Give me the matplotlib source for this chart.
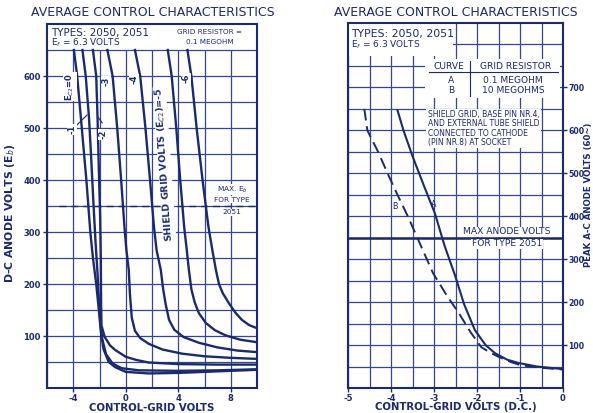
"""Average control characteristics, types 2050 / 2051 (two-panel datasheet chart)."""

import matplotlib
matplotlib.use("Agg")
import matplotlib.pyplot as plt
import numpy as np

INK = "#1b2a6e"
GRID = "#34468c"

# ---- left panel: critical grid volts vs d-c anode volts, one curve per shield-grid voltage
ec2_0_grid = [-3.95, -3.7, -3.35, -3.0, -2.7, -2.5, -2.25, -2.05, -1.9, -1.7, -1.3, -0.8, 0.0, 1.75, 4.0, 7.0, 10.0]
ec2_0_anode = [650, 600, 500, 400, 300, 250, 200, 150, 110, 75, 50, 40, 31, 28, 29, 32, 35]

ec2_1_grid = [-3.3, -3.05, -2.8, -2.65, -2.45, -2.3, -2.15, -2.05, -1.95, -1.8, -1.5, -1.0, -0.3, 1.0, 4.0, 7.0, 10.0]
ec2_1_anode = [650, 600, 520, 450, 350, 280, 220, 170, 130, 95, 65, 47, 38, 34, 33, 34, 36]

ec2_2_grid = [-2.5, -2.25, -2.15, -2.05, -1.95, -1.9, -1.88, -1.85, -1.6, -1.2, -0.8, 0.0, 0.8, 1.75, 4.0, 7.0, 10.0]
ec2_2_anode = [650, 600, 520, 420, 330, 250, 170, 120, 98, 82, 73, 60, 54, 49, 46, 45, 45]

ec2_3_grid = [-1.4, -1.0, -0.65, -0.35, -0.1, 0.05, 0.23, 0.32, 0.46, 0.7, 1.1, 1.75, 2.8, 4.3, 6.0, 8.0, 10.0]
ec2_3_anode = [650, 600, 500, 400, 310, 265, 227, 180, 135, 110, 96, 85, 74, 66, 61, 58, 56]

ec2_4_grid = [0.7, 1.1, 1.5, 1.85, 2.15, 2.35, 2.67, 2.85, 3.05, 3.3, 3.7, 4.4, 5.57, 7.0, 8.5, 10.0]
ec2_4_anode = [650, 600, 500, 400, 310, 265, 227, 190, 160, 131, 112, 98, 87, 78, 72, 69]

ec2_5_grid = [3.2, 3.5, 3.85, 4.15, 4.45, 4.65, 4.81, 5.0, 5.25, 5.57, 6.1, 6.8, 7.63, 8.7, 10.0]
ec2_5_anode = [650, 600, 500, 400, 310, 265, 227, 190, 165, 144, 125, 111, 101, 93, 88]

ec2_6_grid = [4.7, 5.0, 5.4, 5.85, 6.3, 6.6, 6.87, 7.1, 7.4, 7.86, 8.35, 8.85, 9.4, 10.0]
ec2_6_anode = [650, 600, 500, 400, 310, 265, 227, 200, 182, 163, 145, 131, 121, 115]

left_xticks = [-4, 0, 4, 8]
left_yticks = [100, 200, 300, 400, 500, 600]
max_eb_2051 = 350

# ---- right panel: peak a-c anode volts vs d-c grid volts
curve_a_grid = [-3.85, -3.71, -3.5, -3.25, -2.98, -2.75, -2.51, -2.3, -2.05, -1.8, -1.58, -1.3, -1.02, -0.6, 0.0]
curve_a_anode = [647, 600, 540, 475, 407, 330, 262, 195, 135, 100, 81, 66, 58, 50, 44]

curve_b_grid = [-4.62, -4.55, -4.3, -4.08, -3.85, -3.6, -3.3, -3.02, -2.7, -2.42, -2.15, -1.9, -1.65, -1.44, -1.2, -0.98, -0.5, 0.0]
curve_b_anode = [650, 600, 550, 500, 450, 398, 330, 267, 215, 174, 130, 95, 80, 70, 60, 53, 47, 43]

right_xticks = [-5, -4, -3, -2, -1, 0]
right_yticks = [100, 200, 300, 400, 500, 600, 700]
max_anode_2051 = 350

plt.rcParams["font.family"] = "DejaVu Sans"

fig = plt.figure(figsize=(5.93, 4.13), dpi=100)
fig.patch.set_facecolor("white")

W, H = 593, 413
ax1 = fig.add_axes([47 / W, 25 / H, 210 / W, 364 / H])
ax2 = fig.add_axes([348 / W, 25 / H, 215 / W, 365 / H])

for ax in (ax1, ax2):
    for s in ax.spines.values():
        s.set_color(INK)
        s.set_linewidth(1.5)
    ax.tick_params(colors=INK, labelcolor=INK, length=3, width=1.0, labelsize=6.0, pad=1.5)

# ---------------- left panel ----------------
ax1.set_xlim(-6, 10)
ax1.set_ylim(0, 700)
ax1.vlines(np.arange(-6, 10.1, 2), 0, 650, color=GRID, lw=0.9, zorder=1)
ax1.hlines(np.arange(50, 651, 50), -6, 10, color=GRID, lw=0.9, zorder=1)

left_curves = [
    (ec2_0_grid, ec2_0_anode), (ec2_1_grid, ec2_1_anode), (ec2_2_grid, ec2_2_anode),
    (ec2_3_grid, ec2_3_anode), (ec2_4_grid, ec2_4_anode), (ec2_5_grid, ec2_5_anode),
    (ec2_6_grid, ec2_6_anode),
]
for gx, ea in left_curves:
    ax1.plot(gx, ea, color=INK, lw=1.7, zorder=3, solid_joinstyle="round")

ax1.plot([-5.1, 10], [max_eb_2051, max_eb_2051], color=INK, lw=1.0, ls=(0, (5, 3.5)), zorder=2)

ax1.set_xticks(left_xticks)
ax1.set_yticks(left_yticks)
ax1.set_xticklabels([str(v) for v in left_xticks], fontweight="bold")
ax1.set_yticklabels([str(v) for v in left_yticks], fontweight="bold")
ax1.set_xlabel("CONTROL-GRID VOLTS", color=INK, fontsize=7.3, fontweight="bold")
ax1.xaxis.set_label_coords(0.5, -0.042)
ax1.set_ylabel("D-C ANODE VOLTS (E$_b$)", color=INK, fontsize=7.8, fontweight="bold")
ax1.yaxis.set_label_coords(-0.145, 0.48)

ax1.text(-5.7, 683, "TYPES: 2050, 2051", color=INK, fontsize=7.5, va="center", ha="left")
ax1.text(-5.7, 664, "E$_f$ = 6.3 VOLTS", color=INK, fontsize=6.5, va="center", ha="left")
ax1.text(6.4, 684, "GRID RESISTOR =", color=INK, fontsize=5.2, va="center", ha="center")
ax1.text(6.4, 666, "0.1 MEGOHM", color=INK, fontsize=5.2, va="center", ha="center")

lab_kw = dict(color=INK, fontsize=6.0, fontweight="bold", rotation=90, ha="center", va="center",
              zorder=5, bbox=dict(facecolor="white", edgecolor="none", pad=0.4))
ax1.text(-4.25, 580, "E$_{C2}$=0", **lab_kw)
ax1.text(-4.1, 497, "-1", **lab_kw)
ax1.plot([-3.75, -2.95], [505, 525], color=INK, lw=0.8, zorder=4)
ax1.text(-1.7, 488, "-2", **lab_kw)
ax1.plot([-1.8, -2.12], [510, 521], color=INK, lw=0.8, zorder=4)
ax1.text(-1.5, 590, "-3", **lab_kw)
ax1.text(0.6, 593, "-4", **lab_kw)
ax1.text(4.6, 596, "-6", **lab_kw)
ax1.text(2.95, 430, "SHIELD GRID VOLTS (E$_{C2}$)=-5", color=INK, fontsize=6.8, fontweight="bold",
         rotation=94, ha="center", va="center", zorder=5,
         bbox=dict(facecolor="white", edgecolor="none", pad=0.3))

max_kw = dict(color=INK, fontsize=5.3, ha="center", va="center", zorder=5,
              bbox=dict(facecolor="white", edgecolor="none", pad=0.3))
ax1.text(8.1, 381, "MAX. E$_b$", **max_kw)
ax1.text(8.1, 362, "FOR TYPE", **max_kw)
ax1.text(8.1, 338, "2051", **max_kw)

# ---------------- right panel ----------------
ax2.set_xlim(-5, 0)
ax2.set_ylim(0, 850)
ax2.vlines(np.arange(-5, 0.01, 0.5), 0, 850, color=GRID, lw=0.9, zorder=1)
ax2.hlines(np.arange(50, 801, 50), -5, 0, color=GRID, lw=0.9, zorder=1)
ax2.plot([-5, 0], [max_anode_2051, max_anode_2051], color=INK, lw=1.8, zorder=2)

ax2.plot(curve_a_grid, curve_a_anode, color=INK, lw=1.5, zorder=3)
ax2.plot(curve_b_grid, curve_b_anode, color=INK, lw=1.4, ls=(0, (6, 3)), zorder=3)

ax2.yaxis.tick_right()
ax2.tick_params(axis="y", labelsize=5.6, pad=0.8)
ax2.set_xticks(right_xticks)
ax2.set_yticks(right_yticks)
ax2.set_xticklabels([str(v) for v in right_xticks], fontweight="bold")
ax2.set_yticklabels([str(v) for v in right_yticks], fontweight="bold")
ax2.set_xlabel("CONTROL-GRID VOLTS (D.C.)", color=INK, fontsize=7.3, fontweight="bold")
ax2.xaxis.set_label_coords(0.5, -0.038)

# clear band behind the type text, top left
ax2.add_patch(plt.Rectangle((-5, 772), 2.45, 78, facecolor="white", edgecolor="none", zorder=2))
ax2.text(-4.92, 825, "TYPES: 2050, 2051", color=INK, fontsize=7.8, va="center", ha="left", zorder=5)
ax2.text(-4.92, 800, "E$_f$ = 6.3 VOLTS", color=INK, fontsize=6.5, va="center", ha="left", zorder=5)

# legend table for curves A / B
ax2.add_patch(plt.Rectangle((-3.2, 675), 3.12, 92, facecolor="white", edgecolor="none", zorder=4))
tkw = dict(color=INK, fontsize=6.6, va="center", zorder=5)
ax2.text(-2.65, 748, "CURVE", ha="center", **tkw)
ax2.text(-1.1, 748, "GRID RESISTOR", ha="center", **tkw)
ax2.plot([-3.12, -0.12], [735, 735], color=INK, lw=0.8, zorder=5)
ax2.plot([-2.16, -2.16], [680, 762], color=INK, lw=0.8, zorder=5)
ax2.text(-2.6, 716, "A", ha="center", **tkw)
ax2.text(-1.16, 716, "0.1 MEGOHM", ha="center", **tkw)
ax2.text(-2.6, 693, "B", ha="center", **tkw)
ax2.text(-1.16, 693, "10 MEGOHMS", ha="center", **tkw)

note = ("SHIELD GRID, BASE PIN NR.4,\nAND EXTERNAL TUBE SHIELD\n"
        "CONNECTED TO CATHODE\n(PIN NR.8) AT SOCKET")
ax2.text(-3.15, 604, note, color=INK, fontsize=5.5, ha="left", va="center", linespacing=1.05,
         zorder=5, bbox=dict(facecolor="white", edgecolor="none", pad=0.8))

ax2.text(-3.0, 428, "A", color=INK, fontsize=5.8, ha="center", va="center", zorder=5)
ax2.text(-3.9, 423, "B", color=INK, fontsize=5.8, ha="center", va="center", zorder=5)

mkw = dict(color=INK, fontsize=6.6, ha="center", va="center", zorder=5,
           bbox=dict(facecolor="white", edgecolor="none", pad=0.4))
ax2.text(-1.3, 364, "MAX ANODE VOLTS", **mkw)
ax2.text(-1.3, 336, "FOR TYPE 2051", **mkw)

# right-hand axis title squeezed against the sheet edge
fig.text(588.5 / W, 1 - 195 / H, "PEAK A-C ANODE VOLTS (60~)", color=INK, fontsize=6.2,
         fontweight="bold", rotation=90, ha="center", va="center")

title_kw = dict(color=INK, fontsize=9, ha="center", va="center")
fig.text(153 / W, 1 - 13 / H, "AVERAGE CONTROL CHARACTERISTICS", **title_kw)
fig.text(456 / W, 1 - 13 / H, "AVERAGE CONTROL CHARACTERISTICS", **title_kw)

fig.savefig("out.png", dpi=100, facecolor="white")
plt.close(fig)
